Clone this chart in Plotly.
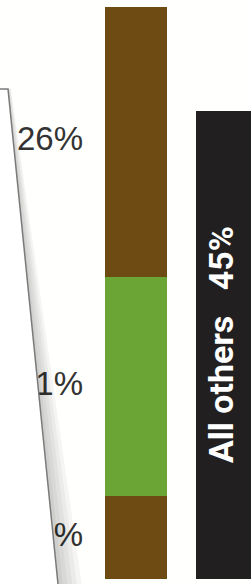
import plotly.graph_objects as go

# ---------------- data ----------------
categories = ["Top three", "All others"]
seg_bottom = [8]      # lower brown segment (%)
seg_green = [21]      # green segment (%)
seg_top = [26]        # upper brown segment (%)
others = [45]         # black bar (%)
label_texts = ["8%", "21%", "26%"]
others_label = "All others"

# ---------------- styles ----------------
W, H = 251, 584
BROWN = "#6e4b12"
GREEN = "#6ba536"
BLACK = "#221f20"
BG = "#fffffd"
BAR_W = 0.68
PX_X = 91.0     # pixels per x unit
X0_PX = 136.0   # pixel of x=0
PX_Y = 10.4     # pixels per y unit
Y0_PX = 579.0   # pixel of y=0

fig = go.Figure()
bar_x = [0, 1]
fig.add_bar(x=[bar_x[0]], y=seg_bottom, marker=dict(color=BROWN, line=dict(width=0)), width=BAR_W, name="bottom")
fig.add_bar(x=[bar_x[0]], y=seg_green, marker=dict(color=GREEN, line=dict(width=0)), width=BAR_W, name="green")
fig.add_bar(x=[bar_x[0]], y=seg_top, marker=dict(color=BROWN, line=dict(width=0)), width=BAR_W, name="top")
fig.add_bar(x=[bar_x[1]], y=others, marker=dict(color=BLACK, line=dict(width=0)), width=BAR_W, name="others")

# rotated label inside the black bar
fig.add_annotation(
    x=bar_x[1], y=others[0] / 2, xref="x", yref="y", xshift=-6,
    text=f"{others_label}\u00a0\u00a0\u00a0{others[0]}%", showarrow=False, textangle=-90,
    font=dict(family="Liberation Sans Narrow, Roboto, Liberation Sans", size=34, color="white", weight="bold"),
)

# segment labels at left of the stacked bar
vals = [seg_bottom[0], seg_green[0], seg_top[0]]
centers = []
acc = 0
for v in vals:
    centers.append(acc + v / 2)
    acc += v
label_x = (83 - X0_PX) / PX_X
fig.add_scatter(
    x=[label_x] * 3, y=centers, mode="text", text=label_texts,
    textposition="middle left",
    textfont=dict(family="Liberation Sans, Arial", size=33, color="#333333"),
    hoverinfo="skip",
)

# ---------------- page-curl overlay ----------------
def P(px, py):
    return px / W, 1 - py / H

def lx(py):
    return 8 + (py - 89) * 50 / 495

def path(points):
    s = ""
    for i, (px, py) in enumerate(points):
        x, y = P(px, py)
        s += ("M" if i == 0 else " L") + f" {x:.5f},{y:.5f}"
    return s + " Z"

shapes = []
# shadow to the right of the curled edge
for k in range(1, 6):
    top_w = 3 * k / 5
    bot_w = 24 * k / 5
    pts = [(lx(89), 89), (lx(89) + top_w, 89), (lx(590) + bot_w, 590), (lx(590), 590)]
    shapes.append(dict(type="path", xref="paper", yref="paper", path=path(pts),
                       fillcolor="rgba(0,0,0,0.04)", line=dict(width=0), layer="above"))
# white page
shapes.append(dict(type="path", xref="paper", yref="paper",
                   path=path([(-2, 89), (lx(89), 89), (lx(590), 590), (-2, 590)]),
                   fillcolor="white", line=dict(width=0), layer="above"))
# edge line
ex0, ey0 = P(-2, 89)
ex1, ey1 = P(lx(89), 89)
ex2, ey2 = P(lx(590), 590)
shapes.append(dict(type="path", xref="paper", yref="paper",
                   path=f"M {ex0:.5f},{ey0:.5f} L {ex1:.5f},{ey1:.5f} L {ex2:.5f},{ey2:.5f}",
                   line=dict(color="#7a7a7a", width=1.5), layer="above"))

fig.update_layout(
    width=W, height=H, margin=dict(l=0, r=0, t=0, b=0),
    barmode="stack", showlegend=False, bargap=0,
    paper_bgcolor=BG, plot_bgcolor=BG,
    xaxis=dict(range=[-X0_PX / PX_X, (W - X0_PX) / PX_X], visible=False, fixedrange=True),
    yaxis=dict(range=[-(H - Y0_PX) / PX_Y, Y0_PX / PX_Y], visible=False, fixedrange=True),
    shapes=shapes,
)

fig.write_html(
    "out.html",
    config={"displayModeBar": False},
    post_script="document.body.style.margin='0';document.body.style.overflow='hidden';",
)
